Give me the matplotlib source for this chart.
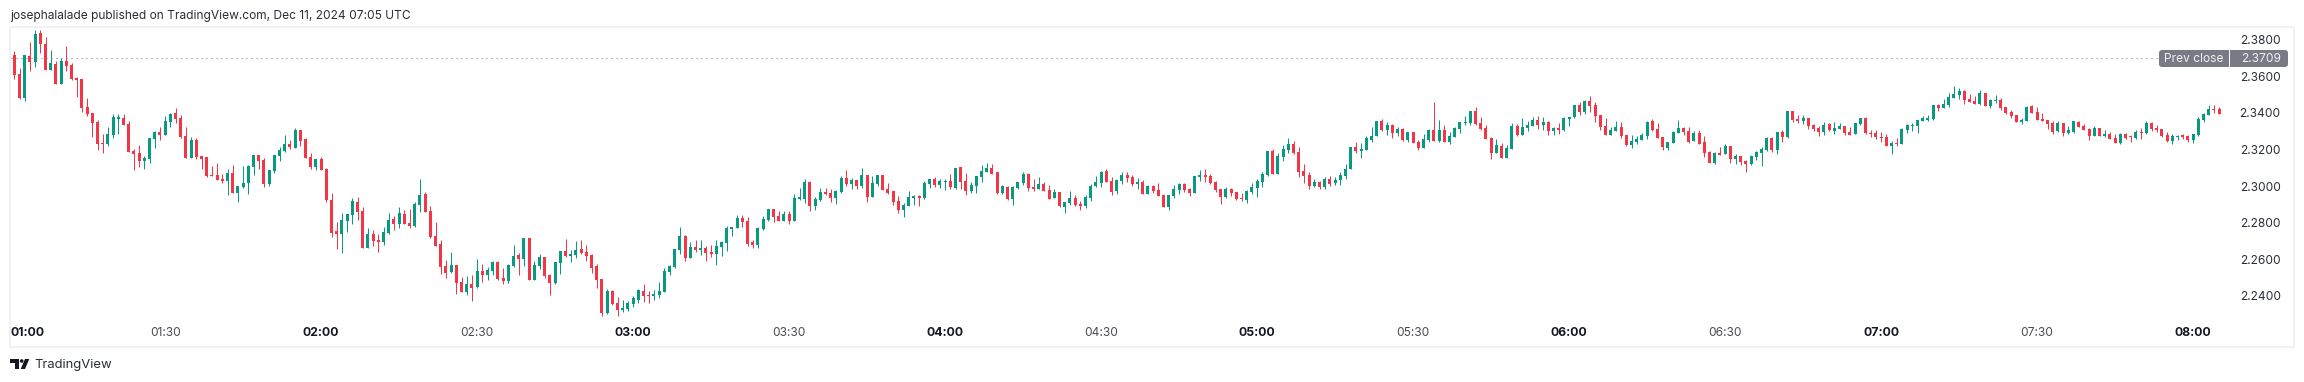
import numpy as np
from matplotlib import pyplot as plt
from matplotlib import transforms
from matplotlib.patches import Circle, FancyBboxPatch, Polygon, Rectangle

W, H = 2304, 382

# prices in 0.0001 above 2.0000, one candle per minute from 01:00
opens = [
    3702, 3725, 3621, 3492, 3720, 3687, 3845, 3785, 3643, 3676,
    3567, 3692, 3671, 3599, 3594, 3441, 3408, 3359, 3244, 3238,
    3288, 3375, 3381, 3348, 3200, 3189, 3145, 3156, 3266, 3304,
    3288, 3359, 3408, 3381, 3282, 3162, 3260, 3173, 3167, 3069,
    3069, 3047, 3036, 3080, 2970, 3003, 3025, 3113, 3178, 3151,
    3020, 3091, 3173, 3200, 3238, 3217, 3315, 3266, 3167, 3113,
    3156, 3102, 2932, 2763, 2746, 2817, 2850, 2921, 2872, 2670,
    2746, 2713, 2702, 2752, 2828, 2801, 2856, 2806, 2790, 2905,
    2965, 2872, 2735, 2692, 2571, 2538, 2577, 2484, 2429, 2473,
    2456, 2544, 2522, 2544, 2593, 2506, 2489, 2571, 2631, 2609,
    2724, 2495, 2571, 2620, 2522, 2478, 2588, 2653, 2626, 2631,
    2664, 2648, 2631, 2571, 2500, 2314, 2434, 2369, 2331, 2336,
    2363, 2385, 2434, 2413, 2407, 2413, 2429, 2538, 2566, 2659,
    2735, 2615, 2675, 2659, 2670, 2648, 2637, 2675, 2697, 2774,
    2779, 2834, 2817, 2702, 2686, 2774, 2823, 2883, 2845, 2817,
    2856, 2817, 2938, 2938, 3031, 2899, 2932, 2976, 2970, 2943,
    2976, 3052, 3020, 3042, 3009, 3069, 2949, 3020, 3069, 2992,
    2981, 2927, 2877, 2899, 2943, 2954, 2943, 3020, 3047, 3014,
    3031, 3036, 2998, 3113, 3036, 2981, 3009, 3058, 3085, 3107,
    3085, 2970, 3003, 2938, 2998, 3025, 3074, 3003, 2992, 3020,
    2987, 2943, 2976, 2894, 2916, 2943, 2910, 2899, 2943, 3009,
    3025, 3091, 3036, 2981, 3036, 3069, 3058, 3020, 3031, 2965,
    3009, 2987, 2960, 2894, 2954, 2987, 3020, 2992, 2970, 3058,
    3069, 3063, 3031, 2992, 2949, 2992, 2976, 2943, 2932, 2976,
    2998, 3031, 3069, 3200, 3074, 3167, 3206, 3238, 3195, 3091,
    3069, 3009, 3031, 3003, 3047, 3025, 3042, 3063, 3102, 3222,
    3200, 3206, 3260, 3282, 3364, 3315, 3342, 3299, 3320, 3260,
    3304, 3249, 3217, 3260, 3315, 3255, 3315, 3249, 3277, 3320,
    3353, 3353, 3419, 3353, 3326, 3271, 3189, 3228, 3162, 3211,
    3337, 3288, 3326, 3337, 3370, 3342, 3359, 3310, 3326, 3315,
    3375, 3386, 3452, 3413, 3474, 3452, 3397, 3337, 3288, 3310,
    3331, 3288, 3233, 3249, 3260, 3282, 3364, 3320, 3277, 3217,
    3244, 3299, 3326, 3310, 3255, 3299, 3249, 3195, 3134, 3189,
    3184, 3228, 3156, 3173, 3145, 3129, 3167, 3189, 3206, 3271,
    3206, 3304, 3277, 3419, 3375, 3364, 3381, 3342, 3326, 3304,
    3348, 3310, 3320, 3337, 3304, 3293, 3348, 3381, 3299, 3299,
    3277, 3277, 3228, 3244, 3238, 3315, 3337, 3337, 3364, 3370,
    3375, 3452, 3435, 3452, 3490, 3506, 3528, 3485, 3474, 3457,
    3517, 3446, 3474, 3479, 3441, 3413, 3397, 3359, 3364, 3446,
    3413, 3375, 3370, 3353, 3310, 3353, 3299, 3304, 3359, 3337,
    3320, 3282, 3326, 3282, 3293, 3271, 3244, 3293, 3277, 3271,
    3304, 3299, 3353, 3326, 3320, 3288, 3255, 3277, 3288, 3282,
    3260, 3288, 3370, 3397, 3430, 3430,
]
highs = [
    3729, 3747, 3652, 3725, 3796, 3862, 3862, 3824, 3753, 3692,
    3707, 3774, 3681, 3605, 3594, 3490, 3408, 3370, 3293, 3331,
    3403, 3403, 3403, 3364, 3211, 3233, 3173, 3271, 3310, 3331,
    3392, 3408, 3435, 3397, 3331, 3277, 3271, 3173, 3167, 3118,
    3134, 3074, 3102, 3124, 3009, 3118, 3124, 3178, 3178, 3162,
    3096, 3178, 3222, 3288, 3260, 3326, 3315, 3271, 3189, 3156,
    3167, 3107, 2970, 2812, 2861, 2856, 2943, 2949, 2894, 2779,
    2768, 2746, 2785, 2861, 2845, 2894, 2877, 2883, 2921, 3047,
    2976, 2899, 2812, 2713, 2604, 2648, 2577, 2511, 2517, 2522,
    2609, 2582, 2566, 2599, 2599, 2560, 2582, 2686, 2642, 2724,
    2724, 2599, 2637, 2620, 2527, 2593, 2653, 2719, 2659, 2708,
    2713, 2686, 2637, 2582, 2500, 2445, 2440, 2402, 2385, 2380,
    2407, 2445, 2473, 2434, 2440, 2484, 2560, 2577, 2664, 2785,
    2741, 2702, 2713, 2713, 2681, 2686, 2713, 2708, 2790, 2785,
    2850, 2850, 2839, 2713, 2785, 2845, 2883, 2883, 2872, 2872,
    2872, 2965, 2998, 3047, 3036, 2949, 2998, 2998, 2992, 2987,
    3063, 3096, 3052, 3042, 3107, 3069, 3063, 3069, 3069, 3025,
    2981, 2954, 2916, 2981, 2960, 2960, 3036, 3047, 3058, 3047,
    3047, 3074, 3107, 3113, 3080, 3031, 3063, 3124, 3134, 3129,
    3085, 3014, 3009, 3009, 3031, 3085, 3080, 3047, 3058, 3031,
    3014, 2992, 2976, 2921, 2981, 2960, 2927, 2960, 3020, 3063,
    3091, 3102, 3058, 3042, 3085, 3085, 3069, 3052, 3042, 3014,
    3014, 3025, 2960, 2960, 3014, 3025, 3025, 2998, 3063, 3096,
    3102, 3074, 3036, 2992, 3003, 2998, 2976, 2970, 2987, 3025,
    3047, 3085, 3200, 3211, 3189, 3233, 3271, 3255, 3222, 3129,
    3085, 3047, 3036, 3058, 3063, 3058, 3085, 3129, 3222, 3249,
    3244, 3282, 3331, 3364, 3375, 3359, 3348, 3331, 3326, 3304,
    3304, 3260, 3293, 3320, 3468, 3370, 3342, 3304, 3331, 3359,
    3392, 3419, 3441, 3386, 3342, 3277, 3266, 3244, 3233, 3353,
    3348, 3381, 3364, 3386, 3392, 3386, 3364, 3331, 3353, 3386,
    3386, 3452, 3468, 3479, 3501, 3468, 3397, 3381, 3331, 3364,
    3359, 3288, 3288, 3282, 3299, 3364, 3375, 3353, 3277, 3249,
    3310, 3370, 3331, 3331, 3310, 3315, 3282, 3200, 3195, 3222,
    3238, 3228, 3184, 3173, 3151, 3178, 3200, 3222, 3277, 3277,
    3304, 3315, 3419, 3419, 3397, 3397, 3381, 3348, 3337, 3359,
    3353, 3359, 3353, 3337, 3331, 3353, 3381, 3386, 3315, 3315,
    3304, 3293, 3255, 3271, 3326, 3348, 3353, 3370, 3392, 3397,
    3452, 3457, 3485, 3517, 3556, 3545, 3534, 3512, 3501, 3534,
    3517, 3485, 3506, 3490, 3441, 3424, 3397, 3381, 3446, 3452,
    3441, 3408, 3370, 3364, 3364, 3353, 3337, 3364, 3364, 3348,
    3326, 3337, 3326, 3315, 3304, 3293, 3299, 3299, 3288, 3315,
    3326, 3364, 3359, 3342, 3320, 3304, 3293, 3288, 3293, 3288,
    3293, 3386, 3408, 3452, 3452, 3441,
]
lows = [
    3698, 3594, 3483, 3475, 3638, 3660, 3736, 3643, 3643, 3567,
    3567, 3638, 3588, 3495, 3413, 3392, 3277, 3206, 3189, 3228,
    3271, 3293, 3342, 3195, 3096, 3113, 3102, 3134, 3217, 3260,
    3288, 3331, 3353, 3271, 3162, 3162, 3156, 3102, 3058, 3063,
    3042, 3025, 2960, 2970, 2921, 2998, 2965, 3069, 3102, 3003,
    3009, 3080, 3145, 3195, 3211, 3217, 3228, 3162, 3102, 3096,
    3096, 2921, 2730, 2664, 2642, 2757, 2801, 2823, 2670, 2670,
    2681, 2648, 2686, 2746, 2768, 2779, 2801, 2779, 2785, 2867,
    2867, 2724, 2681, 2527, 2506, 2533, 2418, 2429, 2413, 2380,
    2451, 2484, 2495, 2522, 2495, 2473, 2478, 2566, 2522, 2571,
    2495, 2495, 2555, 2506, 2413, 2473, 2527, 2620, 2593, 2615,
    2637, 2599, 2533, 2451, 2298, 2309, 2358, 2298, 2320, 2325,
    2347, 2369, 2374, 2369, 2385, 2396, 2429, 2522, 2560, 2637,
    2599, 2615, 2648, 2631, 2599, 2620, 2577, 2626, 2653, 2735,
    2779, 2785, 2681, 2670, 2670, 2768, 2817, 2812, 2817, 2817,
    2801, 2817, 2932, 2916, 2872, 2877, 2927, 2960, 2921, 2910,
    2970, 3009, 2992, 2992, 2998, 2921, 2949, 3009, 2987, 2965,
    2905, 2861, 2839, 2899, 2905, 2899, 2938, 2998, 3003, 2998,
    2987, 2992, 2992, 2992, 2960, 2970, 2970, 3031, 3085, 3074,
    2965, 2965, 2932, 2905, 2992, 3014, 2981, 2981, 2992, 2981,
    2938, 2943, 2894, 2861, 2905, 2899, 2877, 2888, 2927, 3003,
    3003, 3031, 2960, 2965, 3020, 3031, 3009, 2992, 2965, 2965,
    2970, 2954, 2894, 2877, 2943, 2965, 2976, 2954, 2970, 3036,
    3031, 3020, 2976, 2910, 2943, 2954, 2932, 2927, 2916, 2965,
    2949, 3003, 3063, 3074, 3074, 3145, 3189, 3184, 3058, 3025,
    2992, 3003, 2992, 2992, 3009, 3014, 3014, 3047, 3102, 3189,
    3162, 3206, 3249, 3282, 3310, 3288, 3271, 3282, 3255, 3249,
    3244, 3206, 3217, 3249, 3255, 3249, 3249, 3238, 3277, 3299,
    3342, 3342, 3342, 3315, 3266, 3156, 3189, 3162, 3162, 3211,
    3282, 3288, 3310, 3337, 3320, 3315, 3288, 3288, 3293, 3310,
    3337, 3381, 3397, 3403, 3413, 3359, 3315, 3288, 3288, 3310,
    3271, 3228, 3217, 3238, 3260, 3266, 3310, 3271, 3206, 3206,
    3244, 3299, 3288, 3244, 3255, 3238, 3167, 3134, 3129, 3178,
    3184, 3134, 3129, 3124, 3085, 3124, 3151, 3118, 3200, 3195,
    3184, 3249, 3271, 3359, 3353, 3348, 3320, 3310, 3282, 3288,
    3310, 3293, 3320, 3288, 3288, 3293, 3342, 3293, 3277, 3266,
    3249, 3228, 3184, 3228, 3238, 3299, 3310, 3299, 3364, 3364,
    3370, 3419, 3435, 3441, 3490, 3485, 3457, 3468, 3457, 3452,
    3446, 3435, 3463, 3424, 3403, 3381, 3359, 3348, 3364, 3408,
    3370, 3364, 3320, 3293, 3304, 3282, 3293, 3299, 3331, 3315,
    3260, 3282, 3282, 3277, 3266, 3244, 3238, 3266, 3249, 3266,
    3266, 3293, 3310, 3304, 3277, 3249, 3238, 3260, 3266, 3249,
    3244, 3282, 3359, 3397, 3408, 3403,
]
closes = [
    3725, 3616, 3488, 3725, 3687, 3840, 3785, 3643, 3681, 3567,
    3692, 3665, 3594, 3588, 3435, 3403, 3353, 3238, 3238, 3293,
    3386, 3386, 3342, 3195, 3184, 3145, 3162, 3271, 3304, 3288,
    3364, 3403, 3375, 3277, 3162, 3260, 3167, 3156, 3063, 3063,
    3042, 3036, 3080, 2970, 3009, 3025, 3118, 3178, 3145, 3020,
    3096, 3178, 3206, 3238, 3222, 3315, 3255, 3162, 3113, 3156,
    3096, 2932, 2752, 2746, 2823, 2856, 2927, 2867, 2670, 2746,
    2708, 2702, 2757, 2823, 2801, 2861, 2801, 2790, 2910, 2960,
    2867, 2730, 2681, 2566, 2533, 2577, 2478, 2429, 2473, 2451,
    2544, 2522, 2549, 2593, 2500, 2489, 2577, 2626, 2609, 2724,
    2495, 2577, 2620, 2517, 2478, 2593, 2653, 2626, 2637, 2659,
    2642, 2626, 2560, 2495, 2314, 2434, 2363, 2331, 2342, 2369,
    2396, 2440, 2407, 2407, 2418, 2434, 2544, 2571, 2664, 2735,
    2615, 2675, 2659, 2670, 2642, 2637, 2681, 2702, 2779, 2785,
    2834, 2812, 2692, 2686, 2779, 2828, 2883, 2839, 2817, 2856,
    2817, 2943, 2949, 3031, 2899, 2938, 2976, 2965, 2943, 2981,
    3052, 3020, 3042, 3009, 3069, 2949, 3025, 3069, 2987, 2970,
    2921, 2877, 2905, 2949, 2954, 2943, 3025, 3047, 3014, 3036,
    3036, 3003, 3107, 3031, 2981, 3014, 3063, 3091, 3107, 3074,
    2970, 3009, 2938, 3003, 3031, 3074, 2998, 2992, 3020, 2981,
    2938, 2976, 2899, 2921, 2943, 2905, 2899, 2949, 3009, 3031,
    3085, 3031, 2976, 3042, 3069, 3052, 3020, 3031, 2965, 3009,
    2981, 2954, 2894, 2960, 2992, 3020, 2987, 2970, 3063, 3069,
    3058, 3025, 2987, 2949, 2992, 2970, 2938, 2938, 2981, 3003,
    3036, 3074, 3200, 3074, 3173, 3211, 3238, 3189, 3085, 3063,
    3009, 3031, 3003, 3047, 3020, 3042, 3069, 3102, 3222, 3200,
    3211, 3271, 3282, 3364, 3315, 3342, 3299, 3320, 3260, 3304,
    3244, 3217, 3266, 3315, 3255, 3315, 3249, 3282, 3326, 3359,
    3359, 3419, 3348, 3320, 3266, 3189, 3233, 3162, 3217, 3337,
    3288, 3331, 3342, 3370, 3342, 3359, 3310, 3326, 3315, 3381,
    3386, 3452, 3413, 3474, 3446, 3392, 3331, 3288, 3315, 3331,
    3282, 3233, 3255, 3266, 3288, 3359, 3315, 3271, 3222, 3249,
    3304, 3326, 3304, 3249, 3299, 3238, 3189, 3134, 3189, 3178,
    3228, 3156, 3173, 3140, 3129, 3173, 3195, 3211, 3271, 3206,
    3304, 3277, 3419, 3370, 3364, 3381, 3337, 3320, 3304, 3342,
    3315, 3326, 3337, 3299, 3288, 3353, 3381, 3299, 3293, 3277,
    3271, 3228, 3244, 3238, 3320, 3342, 3342, 3370, 3381, 3381,
    3452, 3435, 3457, 3495, 3512, 3528, 3479, 3468, 3457, 3517,
    3446, 3479, 3479, 3435, 3408, 3392, 3359, 3370, 3441, 3408,
    3370, 3364, 3348, 3304, 3353, 3299, 3315, 3364, 3331, 3315,
    3282, 3326, 3282, 3293, 3266, 3244, 3293, 3271, 3275, 3304,
    3299, 3353, 3320, 3315, 3282, 3255, 3282, 3282, 3277, 3260,
    3293, 3375, 3403, 3430, 3424, 3403,
]

major_times = ['01:00', '02:00', '03:00', '04:00', '05:00', '06:00', '07:00', '08:00']
minor_times = ['01:30', '02:30', '03:30', '04:30', '05:30', '06:30', '07:30']
price_ticks = [2.38, 2.36, 2.34, 2.32, 2.30, 2.28, 2.26, 2.24]
prev_close = 2.3709

UP = '#089981'
DOWN = '#F23645'

plt.rcParams['font.family'] = ['Inter', 'DejaVu Sans']

o = 2 + np.array(opens) / 1e4
h = 2 + np.array(highs) / 1e4
l = 2 + np.array(lows) / 1e4
c = 2 + np.array(closes) / 1e4
idx = np.arange(len(o))
colors = np.where(c >= o, UP, DOWN)

fig = plt.figure(figsize=(W / 100, H / 100), dpi=100, facecolor='white')

# pixel overlay for the frame, badge and logo
deco = fig.add_axes([0, 0, 1, 1], zorder=3)
deco.set_xlim(0, W)
deco.set_ylim(H, 0)
deco.axis('off')

ax = fig.add_axes([11 / W, (H - 346) / H, 2282 / W, 318 / H], zorder=2)
ax.patch.set_alpha(0)
ax.axis('off')
px = 0.14 / 256
ax.set_xlim((11 - 9.13) / 5.2, (2293 - 9.13) / 5.2)
ax.set_ylim(2.38 - (346 - 41.3) * px, 2.38 + (41.3 - 28) * px)

ax.vlines(idx, l, h, colors=colors, linewidth=0.72)
ax.bar(idx, np.maximum(np.abs(c - o), px), width=0.6, bottom=np.minimum(o, c), color=colors, linewidth=0)

ax.hlines(prev_close, 0, 1 - 136 / 2282, transform=ax.get_yaxis_transform(), colors='#787B86',
          linewidth=0.72, linestyles=(0, (1, 4)))

deco.add_patch(Rectangle((10, 27), 2284, 320, fill=False, ec='#F0F0F5', lw=1.44))

# time axis
xlab = transforms.blended_transform_factory(ax.transData, ax.transAxes)
for k, t in enumerate(major_times):
    ax.text(max(k * 60, 3.63), 0.041, t, transform=xlab, ha='center', va='center', fontsize=8.8,
            fontweight='bold', color='#131722')
for k, t in enumerate(minor_times):
    ax.text(30 + k * 60, 0.041, t, transform=xlab, ha='center', va='center', fontsize=8.6, color='#4A4C55')

# price scale
for p in price_ticks:
    ax.text(0.9946, p, '%.4f' % p, transform=ax.get_yaxis_transform(), ha='right', va='center',
            fontsize=8.6, color='#2A2E39')

deco.add_patch(FancyBboxPatch((2161, 52), 125, 13, boxstyle='round,pad=2,rounding_size=3', fc='#787B86', ec='none'))
deco.add_patch(Rectangle((2229, 50), 1, 17, fc='white', ec='none'))
deco.text(2194, 58.5, 'Prev close', ha='center', va='center', fontsize=8.6, color='#F0F0F3')
deco.text(2280.7, 58.5, '%.4f' % prev_close, ha='right', va='center', fontsize=8.6, color='#F0F0F3')

deco.text(10, 15.5, 'josephalalade published on TradingView.com, Dec 11, 2024 07:05 UTC',
          ha='left', va='center', fontsize=8.6, color='#2A2E39')

# logo
deco.add_patch(Polygon([(10, 359), (18.7, 359), (18.7, 369), (14.6, 369), (14.6, 362.6), (10, 362.6)], fc='#131722', ec='none'))
deco.add_patch(Circle((21.7, 361), 1.8, fc='#131722', ec='none'))
deco.add_patch(Polygon([(25, 359), (29.3, 359), (25, 369), (20.7, 369)], fc='#131722', ec='none'))
deco.text(34, 365, 'TradingView', ha='left', va='center', fontsize=9.4, color='#2A2E39')

fig.savefig('out.png', dpi=100)
